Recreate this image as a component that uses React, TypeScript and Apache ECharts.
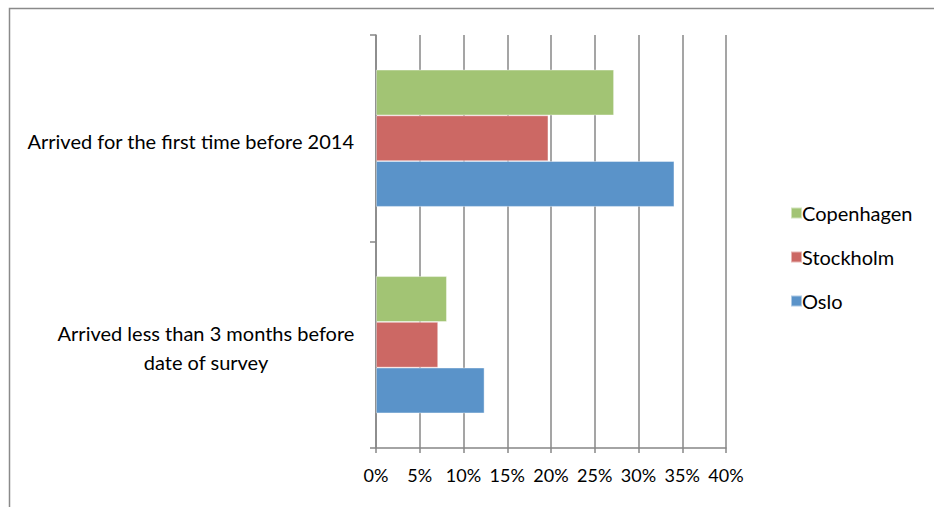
import React, { useEffect, useRef } from "react";
import * as echarts from "echarts";

const categories = [
  "Arrived less than 3 months before\ndate of survey",
  "Arrived for the first time before 2014",
];
const seriesNames = ["Copenhagen", "Stockholm", "Oslo"];
const copenhagenValues = [8.1, 27.2];
const stockholmValues = [7.1, 19.7];
const osloValues = [12.4, 34.1];
const legendOrder = ["Copenhagen", "Stockholm", "Oslo"];

const colors: Record<string, string> = {
  Oslo: "#5A93C9",
  Stockholm: "#CC6864",
  Copenhagen: "#A2C474",
};

const FONT = "Lato";

export default function App() {
  const ref = useRef<HTMLDivElement>(null);
  useEffect(() => {
    if (!ref.current) return;
    const chart = echarts.init(ref.current, undefined, { renderer: "svg" });
    const values = [copenhagenValues, stockholmValues, osloValues];
    chart.setOption({
      animation: false,
      textStyle: { fontFamily: FONT },
      graphic: [
        {
          type: "rect",
          shape: { x: 9.5, y: 8.5, width: 1000, height: 600 },
          style: { fill: "none", stroke: "#8a8a8a", lineWidth: 1.5 },
          silent: true,
        },
      ],
      legend: {
        data: legendOrder,
        orient: "vertical",
        left: 785,
        top: 198,
        itemWidth: 11,
        itemHeight: 11,
        itemGap: 24,
        icon: "rect",
        textStyle: { fontFamily: FONT, fontSize: 20, color: "#000", padding: [0, 0, 0, -5] },
      },
      grid: { left: 376, top: 35, right: 208, bottom: 59, containLabel: false },
      xAxis: {
        type: "value",
        min: 0,
        max: 40,
        interval: 5,
        axisLine: { show: true, lineStyle: { color: "#878787", width: 1.5 } },
        axisTick: { show: true, length: 5, lineStyle: { color: "#878787", width: 1.5 } },
        splitLine: { show: true, lineStyle: { color: "#878787", width: 1.5 } },
        axisLabel: {
          formatter: "{value}%",
          fontFamily: FONT,
          fontSize: 18,
          color: "#000",
          margin: 18,
        },
      },
      yAxis: {
        type: "category",
        data: categories,
        axisLine: { show: true, lineStyle: { color: "#878787", width: 1.5 } },
        axisTick: { show: true, length: 6, lineStyle: { color: "#878787", width: 1.5 } },
        axisLabel: {
          fontFamily: FONT,
          fontSize: 20,
          color: "#000",
          margin: 22,
          padding: [5, 0, 0, 0],
          formatter: (v: string) => {
            const lines = v.split("\n");
            if (lines.length === 1) return v;
            return lines.map((l) => `{c|${l}}`).join("\n");
          },
          rich: {
            c: {
              fontFamily: FONT,
              fontSize: 20,
              color: "#000",
              width: 296,
              align: "center",
              lineHeight: 29,
            },
          },
        },
      },
      series: seriesNames.map((name, i) => ({
        name,
        type: "bar",
        data: values[i],
        barGap: "0%",
        barCategoryGap: "33.6%",
        itemStyle: { color: colors[name], borderColor: "rgba(255,255,255,0.5)", borderWidth: 0.8 },
      })),
    });
    return () => chart.dispose();
  }, []);
  return (
    <div
      ref={ref}
      style={{ position: "absolute", left: 0, top: 0, width: 934, height: 507, background: "#fff" }}
    />
  );
}
